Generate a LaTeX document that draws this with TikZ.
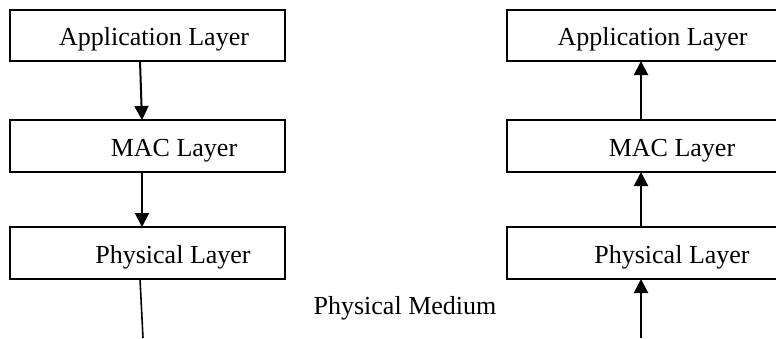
\documentclass[tikz,border=0pt]{standalone}
\usepackage{fontspec}
\setmainfont{Liberation Serif}
\usetikzlibrary{arrows.meta}
\begin{document}
\begin{tikzpicture}[x=1pt,y=-1pt,
  layerbox/.style={draw=black,line width=2pt,fill=white},
  layertext/.style={anchor=base,inner sep=0pt,font=\fontsize{26}{30}\selectfont},
  flow/.style={line width=2pt,-{Triangle[length=14pt,width=14pt]}},
  plain/.style={line width=1.6pt}]
\useasboundingbox (0,0) rectangle (776,338);
\clip (0,0) rectangle (776,338);
% left stack
\draw[layerbox] (10,10) rectangle (285,61);
\draw[layerbox] (10,120) rectangle (285,172);
\draw[layerbox] (10,227) rectangle (285,279);
\node[layertext] (lapp) at (154,45) {Application Layer};
\node[layertext] (lmac) at (174,156) {MAC Layer};
\node[layertext] (lphy) at (173,263) {Physical Layer};
\coordinate (la1) at (140,61);
\coordinate (la2) at (142,120);
\coordinate (lb1) at (142,172);
\coordinate (lb2) at (142,227);
\coordinate (lc1) at (140,279);
\coordinate (lc2) at (143,338);
\draw[flow] (la1) -- (la2);
\draw[flow] (lb1) -- (lb2);
\draw[plain] (lc1) -- (lc2);
% right stack
\draw[layerbox] (507,10) rectangle (790,61);
\draw[layerbox] (507,120) rectangle (790,172);
\draw[layerbox] (507,227) rectangle (790,279);
\node[layertext] (rapp) at (652.5,45) {Application Layer};
\node[layertext] (rmac) at (672,156) {MAC Layer};
\node[layertext] (rphy) at (672,263) {Physical Layer};
\coordinate (ra1) at (641,120);
\coordinate (ra2) at (641,61);
\coordinate (rb1) at (641,227);
\coordinate (rb2) at (641,172);
\coordinate (rc1) at (641,338);
\coordinate (rc2) at (641,279);
\draw[flow] (ra1) -- (ra2);
\draw[flow] (rb1) -- (rb2);
\draw[flow] (rc1) -- (rc2);
% medium
\node[layertext] (medium) at (405,314) {Physical Medium};
\end{tikzpicture}
\end{document}
